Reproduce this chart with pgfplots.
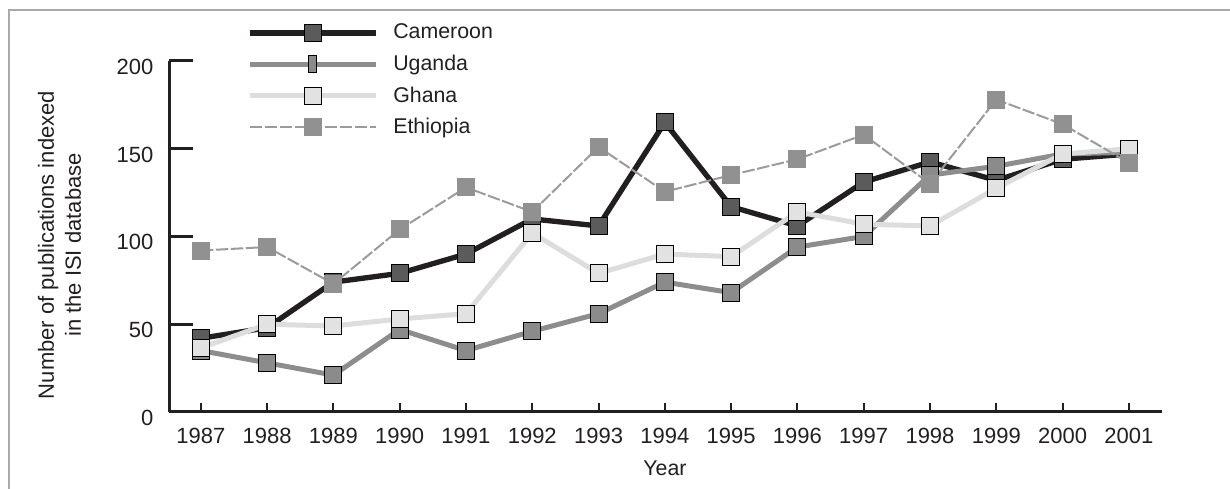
\documentclass[border=0pt]{standalone}
\usepackage{fontspec}
\setmainfont{Liberation Sans}
\usepackage{pgfplots}
\pgfplotsset{compat=1.18}
\definecolor{axcol}{HTML}{231F20}
\definecolor{framecol}{HTML}{A7A9AC}
\definecolor{camline}{HTML}{231F20}
\definecolor{camfill}{HTML}{5B5B5B}
\definecolor{ugaline}{HTML}{8D8D8D}
\definecolor{ugafill}{HTML}{8B8B8B}
\definecolor{ghaline}{HTML}{DDDDDD}
\definecolor{ghafill}{HTML}{E2E2E2}
\definecolor{ethline}{HTML}{9B9B9B}
\definecolor{ethfill}{HTML}{919191}
\begin{document}
\fontsize{12.6}{15}\selectfont
\begin{tikzpicture}
\useasboundingbox (0,0) rectangle (738pt,293.4pt);
\draw[framecol, line width=1.5pt] (5.4pt,-2pt) -- (5.4pt,287.4pt) -- (740pt,287.4pt);
\begin{axis}[
  at={(101.4pt,46.2pt)}, anchor=south west,
  scale only axis, width=595.8pt, height=210.6pt,
  xmin=1986.52, xmax=2001.5, ymin=0, ymax=200,
  axis x line*=bottom, axis y line*=left,
  axis line style={line width=1.8pt, axcol, -},
  xtick={1987,1988,...,2001}, ytick={0,50,100,150,200},
  /pgf/number format/assume math mode=true,
  x tick label style={/pgf/number format/1000 sep={}, yshift=-5pt, font=\fontsize{13.2}{15}\selectfont, text=axcol},
  y tick label style={yshift=-3.5pt, xshift=-5pt, font=\fontsize{13.2}{15}\selectfont, text=axcol},
  tick align=inside,
  xtick style={line width=1.2pt, axcol, /pgfplots/major tick length=5.4pt},
  ytick style={line width=1.8pt, axcol, /pgfplots/major tick length=14.4pt},
  clip=false,
  legend style={draw=none, fill=none, at={(axis description cs:0.0785,1.1247)}, anchor=north west,
    inner sep=0pt, outer sep=0pt, row sep=0pt,
    nodes={inner sep=0pt, minimum height=18.9pt, font=\fontsize{12.8}{15}\selectfont, text=axcol},
    /tikz/every odd column/.style={column sep=9pt}},
  legend cell align=left,
  legend image code/.code={\draw[mark repeat=2,mark phase=2,#1] plot coordinates {(0pt,0pt) (37.8pt,0pt) (75.6pt,0pt)};},
  every axis plot/.append style={mark=square*, mark size=5.1pt},
]
\addplot[camline, line width=3.2pt, mark options={fill=camfill, draw=black, line width=0.6pt}] coordinates {
(1987,42) (1988,48) (1989,74) (1990,79) (1991,90) (1992,110) (1993,106) (1994,165) (1995,117) (1996,106) (1997,131) (1998,142.5) (1999,132) (2000,144) (2001,147)};
\addlegendentry{Cameroon}
\addlegendimage{ugaline, line width=3pt, mark=square*, mark size=5.1pt, mark options={fill=ugafill, draw=black, line width=0.6pt, xscale=0.5}}
\addlegendentry{Uganda}
\addplot[forget plot, ugaline, line width=3pt, mark options={fill=ugafill, draw=black, line width=0.6pt}] coordinates {
(1987,35) (1988,28) (1989,21) (1990,47) (1991,35) (1992,46) (1993,56) (1994,74) (1995,68) (1996,94) (1997,100) (1998,135) (1999,140) (2000,147) (2001,148)};
\addplot[ghaline, line width=3pt, mark options={fill=ghafill, draw=black, line width=0.6pt}] coordinates {
(1987,36.5) (1988,50) (1989,49) (1990,53) (1991,56) (1992,102) (1993,79) (1994,90) (1995,88.5) (1996,114) (1997,107) (1998,106) (1999,127.5) (2000,147) (2001,150)};
\addlegendentry{Ghana}
\addplot[ethline, line width=1.2pt, dash pattern=on 7.5pt off 1.5pt, mark options={solid, fill=ethfill, draw=ethfill, line width=0pt}] coordinates {
(1987,92) (1988,94) (1989,73) (1990,104) (1991,128) (1992,114) (1993,151) (1994,125.5) (1995,135) (1996,144) (1997,158) (1998,130) (1999,178) (2000,164) (2001,142)};
\addlegendentry{Ethiopia}
\end{axis}
\node[text=axcol, font=\fontsize{12.8}{15}\selectfont] at (399pt,12.6pt) {Year};
\node[text=axcol, rotate=90, align=center, font=\fontsize{13.2}{16.2}\selectfont] at (35.7pt,146.4pt) {Number of publications indexed\\in the ISI database};
\end{tikzpicture}
\end{document}
